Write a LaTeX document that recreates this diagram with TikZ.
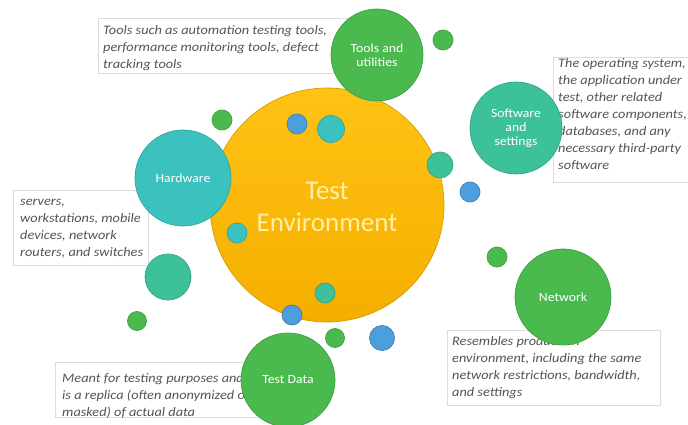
\documentclass[tikz,border=0pt]{standalone}
\usepackage{fontspec}
\setmainfont{Carlito}
\newfontfamily\notefont[FakeStretch=1.1]{Carlito}
\definecolor{cyellow}{HTML}{FBBA00}
\definecolor{cyelltop}{HTML}{FFC313}
\definecolor{cyellbot}{HTML}{F5AE00}
\definecolor{cgreen}{HTML}{4BBA4E}
\definecolor{cteal}{HTML}{3CC2BE}
\definecolor{cmint}{HTML}{3DC19A}
\definecolor{cblue}{HTML}{4C9FDC}
\definecolor{ctext}{HTML}{555555}
\definecolor{cbox}{HTML}{DCDCDC}
\definecolor{clight}{HTML}{FFF1A6}
\begin{document}
\begin{tikzpicture}[x=1pt,y=-1pt,
  bubble/.style={circle,inner sep=0pt,minimum size=#1,line width=0.7pt},
  gbub/.style={bubble=#1,fill=cgreen,draw=cgreen!85!black},
  tbub/.style={bubble=#1,fill=cteal,draw=cteal!85!black},
  mbub/.style={bubble=#1,fill=cmint,draw=cmint!85!black},
  bbub/.style={bubble=#1,fill=cblue,draw=cblue!80!black},
  note/.style={draw=cbox,fill=white,line width=0.6pt},
  notetext/.style={anchor=north west,inner sep=0pt,align=left,text=ctext,
    font=\notefont\fontsize{13}{17}\selectfont\itshape},
  lbl/.style={text=white,align=center,font=\notefont\fontsize{12.5}{14}\selectfont}]
\useasboundingbox (0,0) rectangle (688,425);
\fill[white] (0,0) rectangle (688,425);
% note boxes
\draw[note] (98,18) rectangle (360,73);
\draw[note] (553,57) rectangle (692,182);
\draw[note] (13,190) rectangle (148,265);
\draw[note] (447,330) rectangle (660,405);
\draw[note] (55,362) rectangle (260,417);
\node[notetext] (t1) at (103,25) {Tools such as automation testing tools,\\performance monitoring tools, defect\\tracking tools};
\node[notetext] (t2) at (558,58) {The operating system,\\the application under\\test, other related\\software components,\\databases, and any\\necessary third-party\\software};
\node[notetext] (t3) at (20,199) {servers,\\workstations, mobile\\devices, network\\routers, and switches};
\node[notetext] (t4) at (452,336) {Resembles production\\environment, including the same\\network restrictions, bandwidth,\\and settings};
\node[notetext] (t5) at (62,373) {Meant for testing purposes and\\is a replica (often anonymized or\\masked) of actual data};
% main circle
\node[bubble=234pt,top color=cyelltop,bottom color=cyellbot,draw=cyellow!85!black] (env) at (327,205) {};
\node[text=clight,align=center,font=\fontsize{27}{32}\selectfont] (envt) at (327,207) {Test\\Environment};
% large satellites
\node[gbub=92pt] (tools) at (377,55) {};
\node[lbl] at (tools) {Tools and\\utilities};
\node[mbub=92pt] (soft) at (516,128) {};
\node[lbl] at (soft) {Software\\and\\settings};
\node[tbub=96pt] (hw) at (183,178) {};
\node[lbl] at (hw) {Hardware};
\node[gbub=96pt] (net) at (563,297) {};
\node[lbl] at (net) {Network};
\node[gbub=94pt] (data) at (288,380) {};
\node[lbl] at (data) {Test Data};
% small bubbles
\node[gbub=20pt] (s1) at (443,40) {};
\node[bbub=20pt] (s2) at (297,124) {};
\node[tbub=27pt] (s3) at (331,129) {};
\node[gbub=20pt] (s4) at (222,120) {};
\node[mbub=26pt] (s5) at (440,165) {};
\node[bbub=20pt] (s6) at (470,192) {};
\node[tbub=20pt] (s7) at (237,233) {};
\node[gbub=20pt] (s8) at (497,257) {};
\node[mbub=46pt] (s9) at (168,277) {};
\node[gbub=19pt] (s10) at (137,321) {};
\node[mbub=20pt] (s11) at (325,293) {};
\node[bbub=20pt] (s12) at (292,315) {};
\node[gbub=19pt] (s13) at (335,338) {};
\node[bbub=25pt] (s14) at (382,338) {};
\end{tikzpicture}
\end{document}
